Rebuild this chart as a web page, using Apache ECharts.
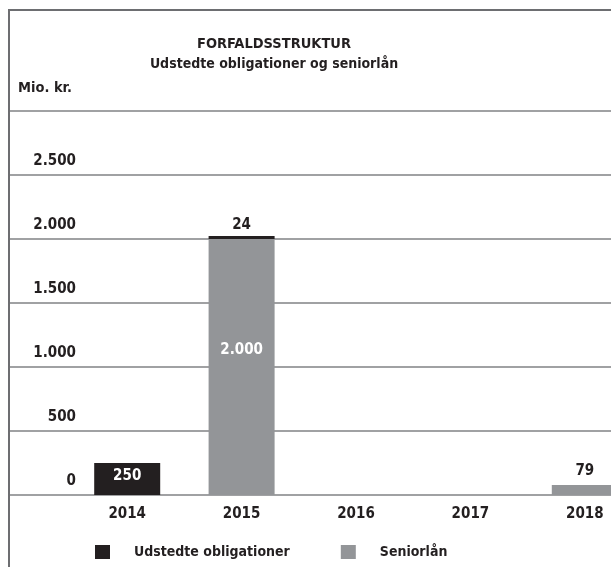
<!DOCTYPE html>
<html>
<head>
    <meta charset="UTF-8" />
    <title>Forfaldsstruktur</title>
    <script src="https://cdn.jsdelivr.net/npm/echarts@6/dist/echarts.min.js"></script>
    <style>
        body { margin: 0; overflow: hidden; background: #fff; }
        #main { position: absolute; left: 0; top: 0; width: 700px; height: 567px; }
        #frame {
            position: absolute; left: 8px; top: 9px; width: 700px; height: 600px;
            border-left: 2px solid #6d6e71; border-top: 2px solid #6d6e71;
            pointer-events: none;
        }
    </style>
</head>
<body>
    <div id="main"></div>
    <div id="frame"></div>
    <script>
    // data (Mio. kr.)
    var years = ['2014', '2015', '2016', '2017', '2018'];
    var obligationer = [250, 24, null, null, null];
    var seniorlaan = [null, 2000, null, null, 79];

    var font = '"Liberation Sans Narrow", "DejaVu Sans Condensed", sans-serif';
    var dark = '#231f20';
    var grey = '#939598';

    function fmt(v) {
        return String(v).replace(/\B(?=(\d{3})+(?!\d))/g, '.');
    }

    // big bars get a white label inside, small ones a dark label on top
    function items(values) {
        return values.map(function(v) {
            if (v == null) return null;
            if (v >= 200) {
                return {
                    value: v,
                    label: { show: true, position: 'inside', color: '#fff', offset: [0, v > 1000 ? -17 : -3] }
                };
            }
            return {
                value: v,
                label: { show: true, position: 'top', color: dark, distance: v > 50 ? 6 : 3 }
            };
        });
    }

    var myChart = echarts.init(document.getElementById('main'));
    myChart.setOption({
        animation: false,
        textStyle: { fontFamily: font, fontWeight: 'bold', color: dark },
        title: [{
            text: 'FORFALDSSTRUKTUR',
            left: 269, top: 32, textAlign: 'center',
            textStyle: { fontFamily: font, fontSize: 14.5, fontWeight: 'bold', color: dark }
        }, {
            text: 'Udstedte obligationer og seniorlån',
            left: 269, top: 52, textAlign: 'center',
            textStyle: { fontFamily: font, fontSize: 14, fontWeight: 'bold', color: dark }
        }, {
            text: 'Mio. kr.',
            left: 13, top: 76,
            textStyle: { fontFamily: font, fontSize: 14.5, fontWeight: 'bold', color: dark }
        }],
        legend: {
            data: ['Udstedte obligationer', 'Seniorlån'],
            left: 95, top: 545, padding: 0,
            icon: 'rect', itemWidth: 15, itemHeight: 14, itemGap: 51,
            textStyle: { fontFamily: font, fontSize: 14, fontWeight: 'bold', color: dark, padding: [0, 0, 0, 19] }
        },
        grid: [
            { left: 70, top: 111, width: 572, height: 384 },
            // strip left of the bars, only carries the grid lines to the frame
            { left: 9, top: 111, width: 61, height: 384 }
        ],
        xAxis: [{
            type: 'category', gridIndex: 0, data: years,
            axisLine: { show: false }, axisTick: { show: false },
            axisLabel: { margin: 12, fontFamily: font, fontSize: 15, fontWeight: 'bold', color: dark }
        }, {
            type: 'category', gridIndex: 1, data: [''], show: false
        }],
        yAxis: [{
            type: 'value', gridIndex: 0, min: 0, max: 3000, interval: 500,
            axisLine: { show: false }, axisTick: { show: false },
            splitLine: { lineStyle: { color: '#808285', width: 1.5 } },
            axisLabel: {
                margin: -6, verticalAlign: 'bottom', padding: [0, 0, 6, 0],
                fontFamily: font, fontSize: 15, fontWeight: 'bold', color: dark,
                formatter: function(v) { return v == 3000 ? '' : fmt(v); }
            }
        }, {
            type: 'value', gridIndex: 1, min: 0, max: 3000, interval: 500,
            axisLine: { show: false }, axisTick: { show: false }, axisLabel: { show: false },
            splitLine: { lineStyle: { color: '#808285', width: 1.5 } }
        }],
        series: [{
            name: 'Seniorlån', type: 'bar', stack: 'total', barWidth: 66,
            itemStyle: { color: grey },
            label: { fontFamily: font, fontSize: 15, fontWeight: 'bold', formatter: function(p) { return fmt(p.value); } },
            data: items(seniorlaan)
        }, {
            name: 'Udstedte obligationer', type: 'bar', stack: 'total', barWidth: 66,
            itemStyle: { color: dark },
            label: { fontFamily: font, fontSize: 15, fontWeight: 'bold', formatter: function(p) { return fmt(p.value); } },
            data: items(obligationer)
        }]
    });
    </script>
</body>
</html>
